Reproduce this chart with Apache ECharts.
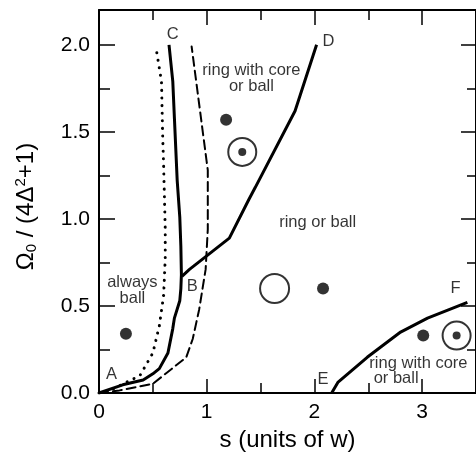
<!DOCTYPE html>
<html>
<head>
<meta charset="utf-8">
<script src="https://cdn.jsdelivr.net/npm/echarts@6/dist/echarts.min.js"></script>
<style>
  html, body { margin: 0; padding: 0; background: #fff; }
  #chart { width: 476px; height: 457px; }
</style>
</head>
<body>
<div id="chart"></div>
<script>
  // boundary curves, [s, Omega0/(4D^2+1)]
  var curveABC = [[0, 0], [0.22, 0.047], [0.41, 0.075], [0.50, 0.11], [0.56, 0.14], [0.64, 0.23],
    [0.685, 0.37], [0.70, 0.43], [0.75, 0.53], [0.76, 0.60], [0.765, 0.68], [0.76, 0.84],
    [0.75, 1.01], [0.726, 1.22], [0.70, 1.58], [0.685, 1.79], [0.65, 2.0]];
  var curveDotted = [[0, 0], [0.10, 0.015], [0.25, 0.06], [0.38, 0.10], [0.50, 0.23], [0.56, 0.385],
    [0.60, 0.56], [0.615, 0.77], [0.615, 0.94], [0.60, 1.3], [0.59, 1.5], [0.58, 1.79], [0.53, 1.98]];
  var curveDashed = [[0, 0], [0.19, 0.015], [0.50, 0.053], [0.81, 0.205], [0.87, 0.31], [0.93, 0.48],
    [0.99, 0.71], [1.01, 0.94], [1.01, 1.28], [0.86, 1.99]];
  var curveBD = [[0.77, 0.67], [0.84, 0.71], [1.21, 0.89], [1.39, 1.11], [1.45, 1.18], [1.82, 1.62], [2.02, 2.0]];
  var curveEF = [[2.16, 0], [2.22, 0.063], [2.49, 0.205], [2.80, 0.35], [3.05, 0.43], [3.42, 0.52]];

  // symbols
  var ballPts = [[0.25, 0.34], [1.18, 1.57], [2.08, 0.60], [3.01, 0.33]];
  var ringPts = [[1.63, 0.60]];
  var ringCorePts = [[1.33, 1.385], [3.32, 0.33]];

  // annotations [s, y, text]
  var letterLabels = [[0.117, 0.105, 'A'], [0.865, 0.613, 'B'], [0.685, 2.06, 'C'],
    [2.13, 2.02, 'D'], [2.08, 0.08, 'E'], [3.31, 0.60, 'F']];
  var regionLabels = [[0.31, 0.59, 'always\nball'], [1.415, 1.805, 'ring with core\nor ball'],
    [2.03, 0.98, 'ring or ball']];
  var regionLabelsLeft = [[2.51, 0.168, 'ring with core'], [2.55, 0.082, 'or ball']];

  var FONT = 'Liberation Sans, Arial, Helvetica, sans-serif';

  var chart = echarts.init(document.getElementById('chart'));

  function frameAxis(pos, isX, labels, tickLen, minorLen) {
    var a = {
      type: 'value',
      position: pos,
      min: 0,
      max: isX ? 3.5 : 2.2,
      interval: isX ? 1 : 0.5,
      axisLine: { show: true, onZero: false, lineStyle: { color: '#000', width: 2 } },
      axisTick: { show: true, inside: true, length: tickLen, lineStyle: { color: '#000', width: 1.5 } },
      minorTick: { show: true, splitNumber: 2, length: minorLen, lineStyle: { color: '#000', width: 1.5 } },
      splitLine: { show: false },
      axisLabel: { show: labels, color: '#000', fontSize: 21, fontFamily: FONT,
        margin: 9, showMaxLabel: false,
        formatter: isX ? function (v) { return String(v); } : function (v) { return v.toFixed(1); } }
    };
    return a;
  }

  var xBottom = frameAxis('bottom', true, true, 14, 10);
  xBottom.name = 's (units of w)';
  xBottom.nameLocation = 'middle';
  xBottom.nameGap = 35;
  xBottom.nameTextStyle = { color: '#000', fontSize: 24, fontFamily: FONT };
  var xTop = frameAxis('top', true, false, 15, 10);

  var yLeft = frameAxis('left', false, true, 16, 11);
  yLeft.name = '{t|Ω}{sub|0}{t| / (4Δ}{sup|2}{t|+1)}';
  yLeft.nameLocation = 'middle';
  yLeft.nameRotate = 90;
  yLeft.nameGap = 58;
  yLeft.nameTextStyle = {
    color: '#000', fontFamily: FONT, padding: [0, 10, 0, 0],
    rich: {
      t: { fontSize: 24, fontFamily: FONT, color: '#000', lineHeight: 30, verticalAlign: 'middle' },
      sub: { fontSize: 15, fontFamily: FONT, color: '#000', lineHeight: 30, verticalAlign: 'bottom', padding: [0, 0, 2, 0] },
      sup: { fontSize: 15, fontFamily: FONT, color: '#000', lineHeight: 30, verticalAlign: 'top', padding: [2, 0, 0, 0] }
    }
  };
  var yRight = frameAxis('right', false, false, 15, 9);

  function textSeries(list, align) {
    return {
      type: 'scatter',
      xAxisIndex: 0, yAxisIndex: 0,
      symbolSize: 0,
      silent: true,
      data: list.map(function (d) { return { value: [d[0], d[1]], name: d[2] }; }),
      label: {
        show: true,
        position: 'inside',
        align: align,
        formatter: function (p) { return p.name; },
        color: '#000',
        fontSize: 16.5,
        lineHeight: 16,
        fontFamily: FONT
      }
    };
  }

  function curve(data, type, width) {
    return {
      type: 'line',
      xAxisIndex: 0, yAxisIndex: 0,
      data: data,
      showSymbol: false,
      silent: true,
      lineStyle: { color: '#000', width: width, type: type, cap: type === 'solid' ? 'butt' : 'round' }
    };
  }

  var option = {
    animation: false,
    backgroundColor: '#fff',
    grid: { left: 99, top: 10, bottom: 62, right: -2 },
    xAxis: [xBottom, xTop],
    yAxis: [yLeft, yRight],
    series: [
      curve(curveDotted, [0.1, 7.5], 3),
      curve(curveABC, 'solid', 3),
      curve(curveDashed, [9, 5], 2),
      curve(curveBD, 'solid', 3),
      curve(curveEF, 'solid', 3),
      {
        type: 'scatter', data: ballPts, symbol: 'circle', symbolSize: 12,
        itemStyle: { color: '#000' }, silent: true
      },
      {
        type: 'scatter', data: ringPts, symbol: 'circle', symbolSize: 29,
        itemStyle: { color: '#fff', borderColor: '#000', borderWidth: 2 }, silent: true
      },
      {
        type: 'scatter', data: ringCorePts, symbol: 'circle', symbolSize: 28,
        itemStyle: { color: '#fff', borderColor: '#000', borderWidth: 2 }, silent: true
      },
      {
        type: 'scatter', data: ringCorePts, symbol: 'circle', symbolSize: 8,
        itemStyle: { color: '#000' }, silent: true
      },
      textSeries(letterLabels, 'center'),
      textSeries(regionLabels, 'center'),
      textSeries(regionLabelsLeft, 'left')
    ]
  };

  chart.setOption(option);
</script>
</body>
</html>
